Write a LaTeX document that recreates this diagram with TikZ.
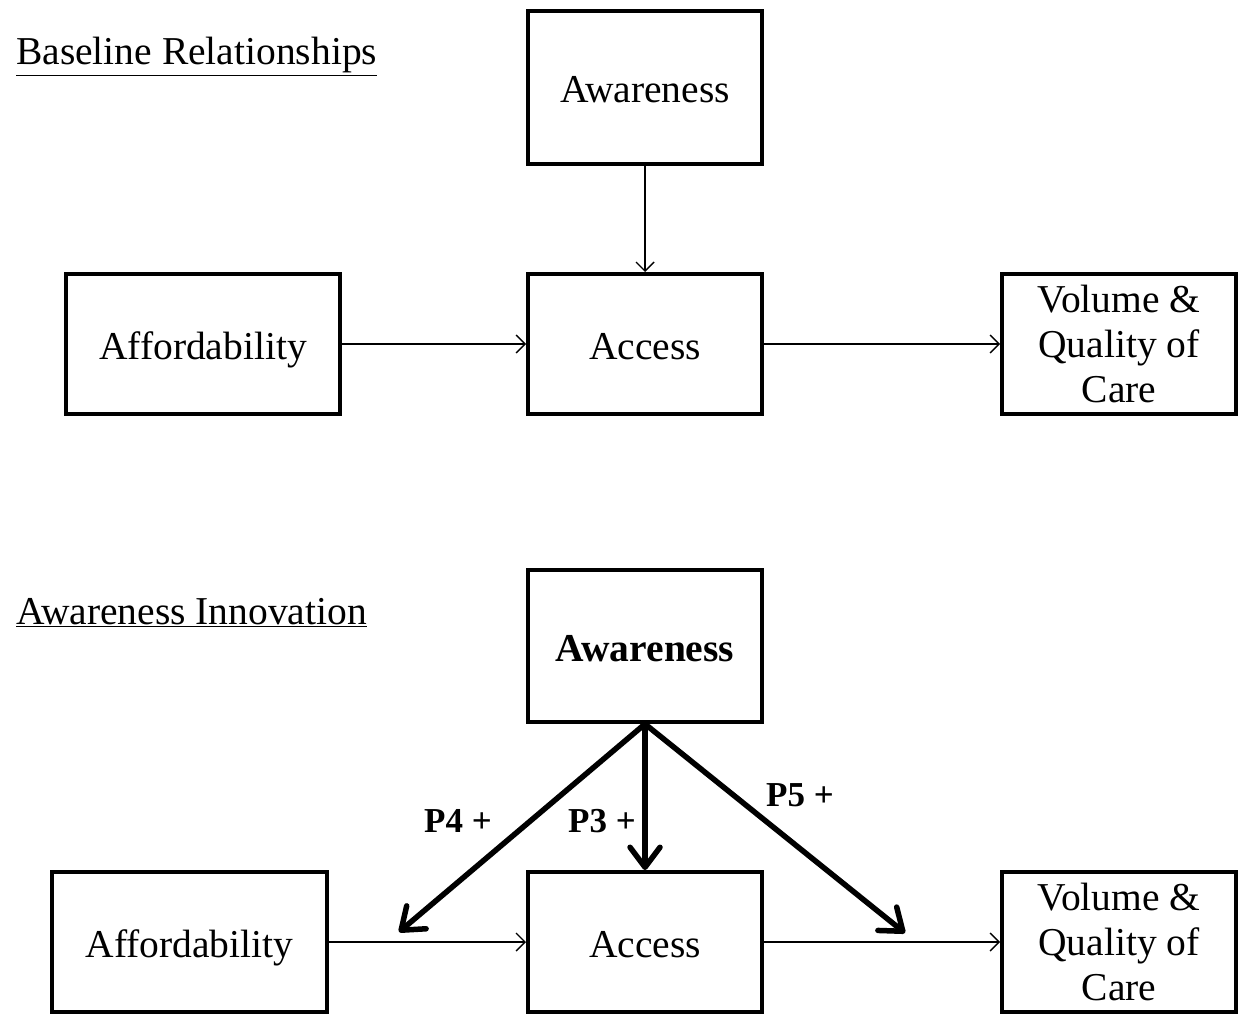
\documentclass[tikz,border=0pt]{standalone}
\usepackage{fontspec}
\setmainfont{Liberation Serif}
\usetikzlibrary{arrows.meta}
\begin{document}
\begin{tikzpicture}[x=1pt,y=-1pt,
  box/.style={draw,line width=4pt,inner sep=0pt,align=center,
    font=\fontsize{39.5}{45}\selectfont},
  oneline/.style={text height=32pt,text depth=2pt},
  thin/.style={line width=1.4pt,-{Straight Barb[length=9pt,width=18pt,line width=1.4pt]}},
  thick/.style={line width=5.5pt,line cap=round,
    -{Straight Barb[length=20pt,width=30pt,line width=5.5pt,round]}},
  head/.style={anchor=base west,inner sep=0pt,font=\fontsize{39.5}{45}\selectfont},
  plab/.style={inner sep=0pt,font=\fontsize{35}{40}\selectfont\bfseries}]
\useasboundingbox (0,0) rectangle (1241,1024);

% Upper panel
\node[head] (t1) at (16,65) {\underline{Baseline Relationships}};
\node[box,oneline,minimum width=234pt,minimum height=153pt] (aw1) at (645,87.5) {Awareness};
\node[box,oneline,minimum width=274pt,minimum height=140pt] (af1) at (203,344) {Affordability};
\node[box,oneline,minimum width=234pt,minimum height=140pt] (ac1) at (645,344) {Access};
\node[box,minimum width=234pt,minimum height=140pt] (vq1) at (1119,344) {Volume \&\\Quality of\\Care};
\draw[thin] (aw1.south) -- (ac1.north);
\draw[thin] (af1.east) -- (ac1.west);
\draw[thin] (ac1.east) -- (vq1.west);

% Lower panel
\node[head] (t2) at (16,624) {\underline{Awareness Innovation}};
\node[box,oneline,minimum width=234pt,minimum height=152pt,font=\fontsize{39.5}{45}\selectfont\bfseries] (aw2) at (645,646) {Awareness};
\node[box,oneline,minimum width=275pt,minimum height=140pt] (af2) at (189.5,942) {Affordability};
\node[box,oneline,minimum width=234pt,minimum height=140pt] (ac2) at (645,942) {Access};
\node[box,minimum width=234pt,minimum height=140pt] (vq2) at (1119,942) {Volume \&\\Quality of\\Care};
\draw[thin] (af2.east) -- (ac2.west);
\draw[thin] (ac2.east) -- (vq2.west);

\coordinate (p4end) at (399,932);
\coordinate (p5end) at (905,933);
\draw[thick] (aw2.south) -- (ac2.north);
\draw[thick] (aw2.south) -- (p4end);
\draw[thick] (aw2.south) -- (p5end);

\node[plab] (p4) at (458,821) {P4 +};
\node[plab] (p3) at (602,821) {P3 +};
\node[plab] (p5) at (800,795) {P5 +};
\end{tikzpicture}
\end{document}
